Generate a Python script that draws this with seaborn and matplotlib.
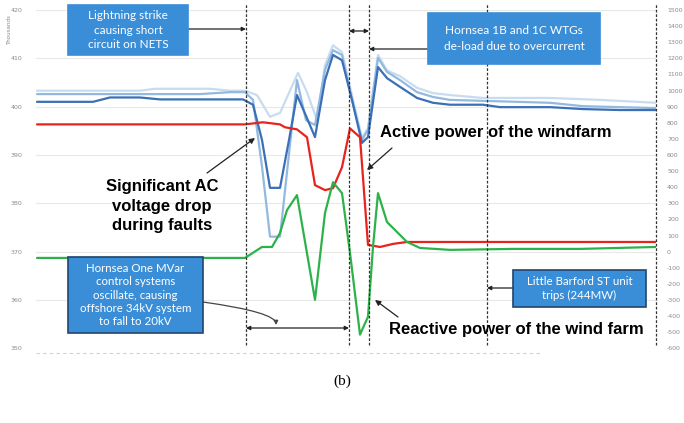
import numpy as np
import pandas as pd
import matplotlib
matplotlib.use("Agg")
import matplotlib.pyplot as plt
from matplotlib.patches import Rectangle
import seaborn as sns

# ---------------- data ----------------
# voltages (kV, left axis)
t_v_light = [0.1, 10.4, 11.9, 17.4, 19.4, 20.9, 22.1, 23.4, 24.4, 26.2, 27.1, 28.1, 28.9, 29.7,
             30.6, 31.6, 32.6, 33.2, 34.2, 35.1, 36.4, 38.1, 39.7, 41.4, 44.7, 51.4, 56.4, 62.0]
v_light = [403.3, 403.3, 403.7, 403.7, 403.3, 403.3, 402.4, 397.9, 398.7, 407.0, 403.0, 397.2, 408.6,
           412.7, 411.3, 402.4, 393.5, 395.6, 410.7, 407.5, 406.3, 403.9, 402.8, 402.4, 401.8, 401.8,
           401.4, 400.8]

t_v_mid = [0.1, 10.4, 16.4, 19.4, 20.9, 21.7, 22.6, 23.4, 24.4, 26.1, 27.0, 27.9, 28.9, 29.7, 30.6,
           31.6, 32.6, 33.2, 34.2, 35.1, 36.4, 38.1, 39.7, 41.4, 44.7, 48.1, 51.4, 54.7, 58.4, 62.0]
v_mid = [402.6, 402.6, 402.6, 403.0, 403.0, 401.4, 387.6, 373.1, 373.1, 405.5, 397.2, 396.2, 407.6,
         411.7, 410.7, 401.4, 393.1, 395.2, 410.1, 407.2, 405.5, 403.0, 402.0, 401.4, 401.2, 401.0,
         400.8, 400.1, 399.9, 399.7]

t_v_dark = [0.1, 5.7, 7.4, 10.4, 12.4, 20.7, 21.7, 22.6, 23.4, 24.4, 25.3, 26.1, 27.0, 27.9, 28.9,
            29.7, 30.6, 31.6, 32.6, 33.2, 34.2, 35.1, 36.4, 38.1, 39.7, 41.4, 44.7, 46.4, 48.1, 51.4,
            54.7, 58.4, 62.0]
v_dark = [401.0, 401.0, 401.9, 401.9, 401.5, 401.5, 400.4, 393.1, 383.2, 383.2, 393.1, 402.4, 398.1,
          393.7, 405.5, 410.7, 409.6, 401.4, 392.5, 393.7, 408.2, 405.9, 404.1, 401.8, 400.8, 400.4,
          400.4, 399.9, 399.9, 399.9, 399.5, 399.3, 399.3]

# active power (MW, right axis)
t_p = [0.1, 20.9, 22.7, 24.4, 24.9, 26.1, 27.1, 27.9, 28.9, 29.7, 30.6, 31.4, 32.4, 33.2, 34.4,
       35.7, 37.1, 62.0]
p_mw = [790, 790, 803, 790, 772, 759, 710, 413, 382, 394, 524, 765, 710, 42, 29, 48, 60, 60]

# reactive power (MVar, right axis)
t_q = [0.1, 20.9, 22.6, 23.6, 24.4, 25.1, 26.1, 27.9, 28.9, 29.7, 30.6, 31.4, 32.4, 33.2, 33.7,
       34.2, 35.1, 36.1, 37.1, 38.4, 41.4, 47.7, 54.4, 62.0]
q_mvar = [-39, -39, 29, 29, 116, 258, 351, -299, 240, 431, 363, -8, -515, -404, 29, 363, 184, 122,
          60, 23, 11, 17, 17, 29]

event_times = [21.0, 31.3, 33.3, 45.1, 62.0]
left_ticks = [350, 360, 370, 380, 390, 400, 410, 420]
right_ticks = list(range(-600, 1600, 100))

# ---------------- figure ----------------
sns.set_theme(style="white")
plt.rcParams["axes.unicode_minus"] = False
W, H = 684, 423
fig = plt.figure(figsize=(W / 100, H / 100), dpi=100)
ax = fig.add_axes([36 / W, 1 - 348.3 / H, 620 / W, (348.3 - 10) / H])
ax2 = ax.twinx()

def P(px, py):
    return (px, H - py)

c_light, c_mid, c_dark = "#c8dcf0", "#93b9e1", "#3b70b6"
c_red, c_green = "#e8221d", "#2db24b"

ax.set_zorder(1)
ax2.set_zorder(2)
ax2.patch.set_visible(False)

sns.lineplot(x=t_v_light, y=v_light, ax=ax, color=c_light, lw=1.6, estimator=None, sort=False)
sns.lineplot(x=t_v_mid, y=v_mid, ax=ax, color=c_mid, lw=1.6, estimator=None, sort=False)
sns.lineplot(x=t_v_dark, y=v_dark, ax=ax, color=c_dark, lw=1.6, estimator=None, sort=False)
sns.lineplot(x=t_p, y=p_mw, ax=ax2, color=c_red, lw=1.6, estimator=None, sort=False)
sns.lineplot(x=t_q, y=q_mvar, ax=ax2, color=c_green, lw=1.6, estimator=None, sort=False)

ax.set_xlim(0, 62)
ax.set_ylim(350, 420)
ax2.set_ylim(-600, 1500)
ax.set_yticks(left_ticks)
ax2.set_yticks(right_ticks)
ax.set_xticks([])
for a in (ax, ax2):
    for s in a.spines.values():
        s.set_visible(False)
    a.set_xlabel("")
    a.set_ylabel("")
ax.tick_params(axis="y", labelsize=4.5, labelcolor="#8a8a8a", length=0, pad=10)
ax2.tick_params(axis="y", labelsize=4.5, labelcolor="#8a8a8a", length=0, pad=8)
ax.grid(axis="y", color="#e8e8e8", lw=0.8)
ax2.grid(False)

for t in event_times:
    ax2.axvline(t, ymin=0.01, ymax=1.02, color="#333333", lw=0.9,
                linestyle=(0, (2.2, 1.4)), clip_on=False)

# bottom faint dashed line
fig.add_artist(plt.Line2D([36 / W, 540 / W], [1 - 353 / H, 1 - 353 / H], color="#d0d0d0",
                          lw=0.8, linestyle=(0, (3, 3))))

fig.text(10 / W, 1 - 30 / H, "Thousands", rotation=90, fontsize=4, color="#8a8a8a",
         ha="center", va="center")

# ---------------- boxes ----------------
box_c = "#3a8ed8"
def box(x0, y0, x1, y1, text, edge=None, fs=8.3, ls=1.3):
    r = Rectangle((x0 / W, 1 - y1 / H), (x1 - x0) / W, (y1 - y0) / H, transform=fig.transFigure,
                  facecolor=box_c, edgecolor=edge if edge else box_c, lw=1.2, zorder=5)
    fig.add_artist(r)
    fig.text((x0 + x1) / 2 / W, 1 - (y0 + y1) / 2 / H, text, ha="center", va="center",
             color="white", fontsize=fs, family="Lato", linespacing=ls, zorder=6)

box(68, 5, 188, 55, "Lightning strike\ncausing short\ncircuit on NETS", fs=8.5, ls=1.35)
box(428, 13, 600, 64, "Hornsea 1B and 1C WTGs\nde-load due to overcurrent", fs=8.6, ls=1.45)
box(68, 257, 203, 333, "Hornsea One MVar\ncontrol systems\noscillate, causing\noffshore 34kV system\nto fall to 20kV",
    edge="#23456e", fs=8.3, ls=1.25)
box(513, 270, 646, 307, "Little Barford ST unit\ntrips (244MW)", edge="#23456e", fs=8.3, ls=1.3)

ap = dict(arrowstyle="-|>", color="#222222", lw=0.9, mutation_scale=6, shrinkA=0, shrinkB=0)
def arrow(p0, p1, style=None, **kw):
    d = dict(ap)
    if style:
        d["arrowstyle"] = style
    d.update(kw)
    ax.annotate("", xy=P(*p1), xytext=P(*p0), xycoords="figure pixels",
                textcoords="figure pixels", arrowprops=d, annotation_clip=False, zorder=7)

arrow((188, 29), (246, 29))
arrow((428, 49), (369, 49))
arrow((349, 31), (369, 31), style="<|-|>")
arrow((513, 288), (487, 288))
arrow((246, 328), (349, 328), style="<|-|>")
arrow((203, 302), (276, 325), connectionstyle="angle3,angleA=-8,angleB=90", color="#444444")

# ---------------- bold labels ----------------
bold = dict(family="Liberation Sans", fontweight="bold", fontsize=12, color="black", zorder=8)
fig.text(162 / W, 1 - 206 / H, "Significant AC\nvoltage drop\nduring faults", ha="center",
         va="center", linespacing=1.4, **bold)
fig.text(380 / W, 1 - 133 / H, "Active power of the windfarm", ha="left", va="center", **bold)
fig.text(389 / W, 1 - 329 / H, "Reactive power of the wind farm", ha="left", va="center", **bold)
arrow((207, 173), (255, 138), mutation_scale=8)
arrow((392, 148), (367, 170), mutation_scale=8)
arrow((398, 317), (375, 300), mutation_scale=8)

fig.text(342 / W, 1 - 381 / H, "(b)", ha="center", va="center", fontsize=11,
         family="Liberation Serif", color="black")

fig.savefig("out.png", dpi=100)
